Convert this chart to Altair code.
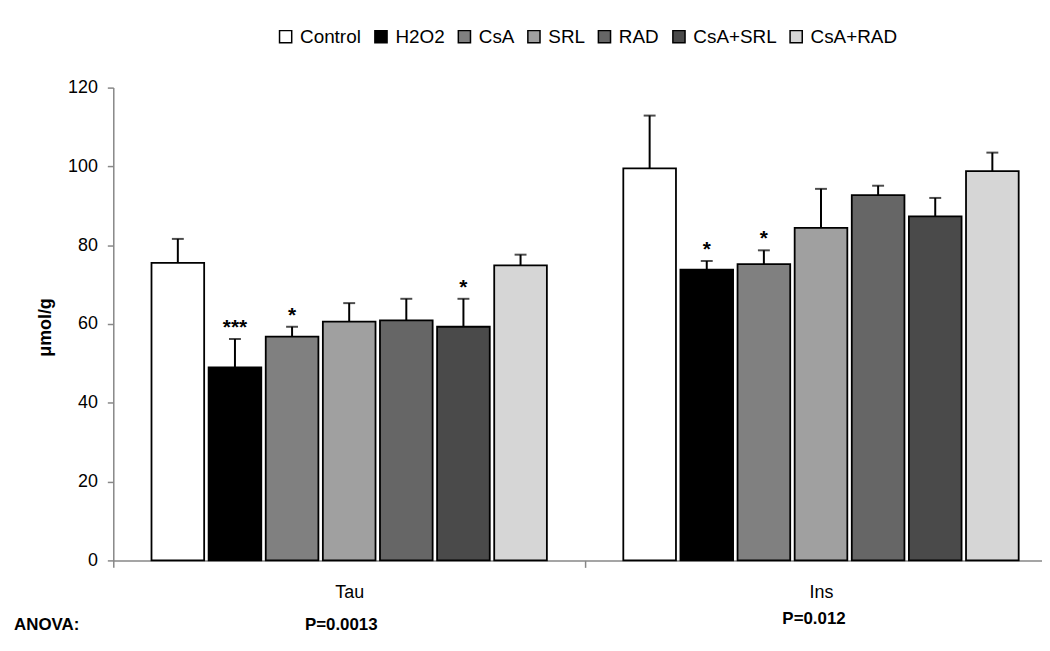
import altair as alt
import pandas as pd

groups = ["Tau", "Ins"]
treatments = ["Control", "H2O2", "CsA", "SRL", "RAD", "CsA+SRL", "CsA+RAD"]
tau_mean = [75.5, 49.0, 56.8, 60.6, 60.9, 59.3, 74.9]
tau_err = [6.1, 7.2, 2.5, 4.7, 5.5, 7.1, 2.7]
ins_mean = [99.5, 73.8, 75.2, 84.4, 92.7, 87.3, 98.8]
ins_err = [13.4, 2.2, 3.5, 9.9, 2.4, 4.7, 4.7]
tau_stars = ["", "***", "*", "", "", "*", ""]
ins_stars = ["", "*", "*", "", "", "", ""]
colors = ["#ffffff", "#000000", "#808080", "#a0a0a0", "#666666", "#4a4a4a", "#d6d6d6"]
anova_p = ["P=0.0013", "P=0.012"]

FONT = "Liberation Sans"

rows = []
for g, means, errs, stars in [("Tau", tau_mean, tau_err, tau_stars), ("Ins", ins_mean, ins_err, ins_stars)]:
    for t, m, e, s in zip(treatments, means, errs, stars):
        rows.append({"group": g, "treatment": t, "mean": m, "err": e, "upper": m + e, "star": s})
df = pd.DataFrame(rows)

xenc = alt.X(
    "group:N", sort=groups,
    scale=alt.Scale(domain=groups, range=[0, 950], paddingInner=0, paddingOuter=0),
    axis=alt.Axis(title=None, tickBand="extent", labelFontSize=18, labelPadding=16,
                  tickSize=7, labelAngle=0, labelColor="black"),
)
xoff = alt.XOffset("treatment:N", sort=treatments,
                   scale=alt.Scale(domain=treatments, paddingInner=0.078, paddingOuter=0.669))
yenc = alt.Y(
    "mean:Q",
    scale=alt.Scale(domain=[0, 120], nice=False),
    axis=alt.Axis(title="μmol/g", values=[0, 20, 40, 60, 80, 100, 120], grid=False,
                  tickSize=6, labelFontSize=18, labelPadding=10, labelColor="black",
                  titleFontSize=18, titleFontWeight="bold", titleX=-68, titleY=241,
                  titleAngle=-90, titleAlign="center", titleBaseline="middle",
                  titleColor="black"),
)

base = alt.Chart(df).encode(x=xenc, xOffset=xoff)

bars = base.mark_bar(stroke="black", strokeWidth=1.8).encode(
    y=yenc,
    color=alt.Color(
        "treatment:N", sort=treatments,
        scale=alt.Scale(domain=treatments, range=colors),
        legend=alt.Legend(
            title=None, orient="none", legendX=164, legendY=-61, direction="horizontal",
            symbolType="square", symbolSize=150, symbolStrokeColor="black",
            symbolStrokeWidth=1.5, labelFontSize=19, labelFont=FONT, labelColor="black",
            labelOffset=5, columnPadding=10,
        ),
    ),
)

err_rule = base.mark_rule(color="black", strokeWidth=2).encode(
    y="mean:Q", y2="upper:Q"
)
err_cap = base.mark_tick(orient="horizontal", size=12, thickness=2, color="black").encode(
    y="upper:Q"
)
star_text = base.mark_text(fontSize=21, fontWeight="bold", baseline="alphabetic", dy=-5,
                           color="black").encode(
    y="upper:Q", text="star:N"
)

pdf = pd.DataFrame({"group": groups, "p": anova_p})
p_tau = alt.Chart(pdf).transform_filter(alt.datum.group == "Tau").mark_text(
    fontSize=17, fontWeight="bold", dx=-8, baseline="middle", color="black"
).encode(x=alt.X("group:N", sort=groups), y=alt.value(541), text="p:N")
p_ins = alt.Chart(pdf).transform_filter(alt.datum.group == "Ins").mark_text(
    fontSize=17, fontWeight="bold", dx=-7, baseline="middle", color="black"
).encode(x=alt.X("group:N", sort=groups), y=alt.value(535), text="p:N")

anova = alt.Chart(pd.DataFrame({"t": ["ANOVA:"]})).mark_text(
    fontSize=17, fontWeight="bold", baseline="middle", align="center", color="black"
).encode(x=alt.value(-67), y=alt.value(541), text="t:N")

chart = alt.layer(bars, err_rule, err_cap, star_text, p_tau, p_ins, anova).properties(
    width=935, height=476,
    autosize=alt.AutoSizeParams(type="none"),
    padding={"left": 106, "top": 78, "right": 0, "bottom": 81},
).configure(font=FONT).configure_view(stroke=None).configure_axis(
    domainColor="#878787", tickColor="#878787", domainWidth=1.5, tickWidth=1.5,
    labelFont=FONT, titleFont=FONT,
)

chart.save("out.html", embed_options={"renderer": "svg", "actions": False})
